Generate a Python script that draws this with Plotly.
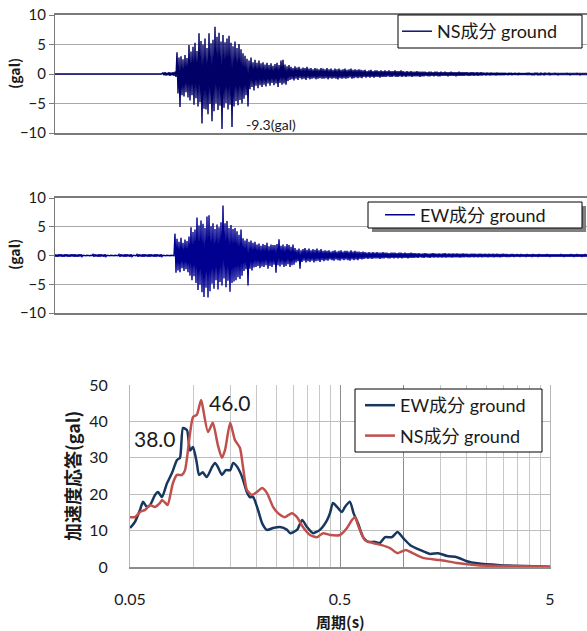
import plotly.graph_objects as go

# ---------------- time histories (envelope peaks read per 1 s column) ----------------
T_MAX = 266
NS_PRE_T = [0, 53]
NS_PRE_V = [0.0, 0.0]
NS_T0 = 54
NS_POS = [
    0.2, 0.3, 0.2, 0.3, 0.25, 0.3, 0.4, 3.7, 2.8, 3.0,
    2.5, 3.2, 2.7, 4.9, 3.8, 4.6, 5.3, 3.9, 6.9, 5.6,
    5.0, 6.0, 4.4, 6.9, 5.2, 5.8, 8.0, 6.3, 7.0, 5.5,
    6.6, 5.4, 6.0, 6.5, 5.3, 4.7, 5.5, 4.4, 5.1, 4.2,
    3.5, 3.1, 2.6, 2.3, 2.8, 2.0, 2.4, 1.9, 2.3, 1.8,
    2.0, 1.6, 1.9, 1.5, 1.8, 1.4, 1.7, 1.9, 1.5, 2.3,
    2.4, 1.6, 1.3, 1.5, 1.2, 1.0, 1.3, 1.1, 1.2, 0.9,
    1.1, 1.0, 1.2, 0.9, 1.0, 0.8, 1.0, 0.9, 0.8, 1.0,
    0.9, 0.8, 1.0, 0.8, 0.9, 0.7, 0.9, 0.8, 0.9, 0.7,
    0.8, 0.9, 0.7, 0.8, 0.9, 0.7, 0.8, 0.7, 0.8, 0.7,
    0.6, 0.7, 0.5, 0.6, 0.7, 0.5, 0.6, 0.6, 0.5, 0.6,
    0.5, 0.6, 0.5, 0.6, 0.5, 0.5, 0.6, 0.5, 0.5, 0.6,
    0.5, 0.4, 0.5, 0.4, 0.5, 0.4, 0.4, 0.5, 0.4, 0.4,
    0.4, 0.4, 0.3, 0.4, 0.4, 0.3, 0.4, 0.4, 0.3, 0.4,
    0.3, 0.4, 0.3, 0.3, 0.4, 0.3, 0.3, 0.3, 0.4, 0.3,
    0.3, 0.3, 0.3, 0.25, 0.3, 0.3, 0.25, 0.3, 0.25, 0.3,
    0.25, 0.2, 0.25, 0.2, 0.25, 0.2, 0.2, 0.25, 0.2, 0.2,
    0.2, 0.2, 0.15, 0.2, 0.2, 0.15, 0.2, 0.15, 0.2, 0.15,
    0.15, 0.15, 0.2, 0.15, 0.15, 0.1, 0.15, 0.15, 0.1, 0.15,
    0.1, 0.15, 0.1, 0.15, 0.1, 0.1, 0.15, 0.1, 0.1, 0.1,
    0.1, 0.1, 0.15, 0.1, 0.1, 0.1, 0.1, 0.15, 0.1, 0.1, 0.1, 0.1, 0.1,
]
NS_NEG = [
    -0.2, -0.25, -0.2, -0.3, -0.2, -0.3, -0.5, -3.3, -5.6, -3.6,
    -3.8, -3.1, -4.0, -4.5, -3.6, -5.2, -4.1, -5.5, -4.8, -8.4,
    -5.9, -6.0, -6.8, -5.1, -8.0, -6.3, -5.0, -6.1, -5.4, -9.3,
    -5.7, -4.9, -6.0, -5.2, -9.0, -5.5, -4.6, -5.3, -4.4, -5.0,
    -4.2, -3.6, -5.5, -2.6, -2.2, -2.8, -2.0, -2.4, -1.9, -2.2,
    -1.8, -2.1, -1.6, -2.0, -1.5, -1.9, -1.6, -2.2, -1.5, -1.8,
    -1.6, -1.8, -1.2, -1.0, -0.9, -1.1, -0.8, -1.0, -0.7, -0.9,
    -0.8, -1.0, -0.7, -0.9, -0.8, -0.7, -0.9, -0.8, -0.7, -0.8,
    -0.8, -0.7, -0.9, -0.7, -0.8, -0.7, -0.8, -0.9, -0.7, -0.8,
    -0.7, -0.8, -0.7, -0.6, -0.8, -0.7, -0.6, -0.7, -0.6, -0.7,
    -0.5, -0.6, -0.5, -0.6, -0.5, -0.6, -0.5, -0.5, -0.6, -0.5,
    -0.5, -0.5, -0.4, -0.5, -0.5, -0.4, -0.5, -0.5, -0.4, -0.5,
    -0.4, -0.5, -0.4, -0.4, -0.5, -0.4, -0.4, -0.4, -0.5, -0.4,
    -0.4, -0.3, -0.4, -0.4, -0.3, -0.4, -0.3, -0.4, -0.4, -0.3,
    -0.3, -0.3, -0.4, -0.3, -0.3, -0.3, -0.4, -0.3, -0.3, -0.3,
    -0.3, -0.25, -0.3, -0.3, -0.25, -0.3, -0.25, -0.3, -0.25, -0.25,
    -0.2, -0.25, -0.2, -0.25, -0.2, -0.2, -0.25, -0.2, -0.2, -0.2,
    -0.2, -0.15, -0.2, -0.15, -0.2, -0.15, -0.15, -0.2, -0.15, -0.15,
    -0.15, -0.15, -0.1, -0.15, -0.15, -0.15, -0.1, -0.15, -0.15, -0.1,
    -0.15, -0.1, -0.1, -0.15, -0.1, -0.1, -0.1, -0.15, -0.1, -0.1,
    -0.1, -0.1, -0.1, -0.15, -0.1, -0.1, -0.1, -0.1, -0.15, -0.1, -0.1, -0.1, -0.1,
]

EW_T0 = 0
EW_POS = [
    0.2, 0.15, 0.2, 0.2, 0.15, 0.2, 0.2, 0.15, 0.2, 0.2,
    0.2, 0.15, 0.2, 0.2, 0.03, 0.03, 0.03, 0.03, 0.03, 0.2,
    0.2, 0.15, 0.2, 0.2, 0.15, 0.2, 0.03, 0.03, 0.03, 0.03,
    0.03, 0.03, 0.2, 0.2, 0.15, 0.2, 0.2, 0.15, 0.2, 0.03,
    0.03, 0.2, 0.2, 0.15, 0.2, 0.2, 0.15, 0.2, 0.2, 0.15,
    0.2, 0.2, 0.15, 0.2, 0.03, 0.03, 0.03, 0.03, 0.03, 0.03,
    3.8, 2.9, 2.4, 3.1, 2.2, 2.8, 2.5, 3.3, 4.9, 4.1,
    4.5, 6.6, 5.2, 6.1, 5.5, 4.8, 6.8, 7.0, 5.1, 5.6,
    4.6, 5.4, 4.9, 5.8, 8.7, 5.6, 6.0, 4.8, 5.3, 4.6,
    4.8, 4.2, 3.6, 4.5, 3.0, 2.6, 2.9, 2.4, 2.6, 2.2,
    2.4, 1.9, 2.1, 1.7, 2.0, 1.8, 2.2, 1.6, 1.9, 1.8,
    1.8, 2.0, 2.8, 1.7, 1.9, 1.6, 2.0, 1.8, 1.5, 1.9,
    1.3, 1.0, 1.2, 0.9, 1.1, 1.3, 1.0, 1.2, 0.9, 1.1,
    1.0, 1.2, 0.9, 1.1, 0.8, 0.9, 0.8, 0.9, 0.7, 0.8,
    0.9, 0.7, 0.8, 0.9, 0.7, 0.8, 0.8, 0.7, 0.9, 0.7,
    0.8, 0.7, 0.7, 0.6, 0.7, 0.6, 0.5, 0.6, 0.5, 0.6,
    0.5, 0.6, 0.5, 0.5, 0.6, 0.5, 0.5, 0.4, 0.5, 0.5,
    0.5, 0.4, 0.5, 0.5, 0.4, 0.5, 0.4, 0.4, 0.5, 0.4,
    0.4, 0.35, 0.4, 0.3, 0.35, 0.4, 0.35, 0.3, 0.35, 0.4,
    0.35, 0.3, 0.35, 0.3, 0.35, 0.4, 0.3, 0.35, 0.3, 0.35,
    0.3, 0.35, 0.3, 0.3, 0.35, 0.3, 0.3, 0.25, 0.3, 0.3,
    0.3, 0.25, 0.3, 0.3, 0.25, 0.3, 0.25, 0.3, 0.25, 0.3,
    0.25, 0.3, 0.25, 0.25, 0.3, 0.25, 0.25, 0.2, 0.25, 0.25,
    0.2, 0.25, 0.2, 0.25, 0.2, 0.2, 0.25, 0.2, 0.2, 0.25,
    0.2, 0.2, 0.25, 0.2, 0.2, 0.2, 0.25, 0.2, 0.2, 0.2,
    0.2, 0.2, 0.2, 0.25, 0.2, 0.2, 0.2, 0.2, 0.25, 0.2,
    0.2, 0.25, 0.2, 0.2, 0.2, 0.25, 0.2,
]
EW_NEG = [
    -0.2, -0.2, -0.15, -0.2, -0.2, -0.15, -0.2, -0.2, -0.15, -0.2,
    -0.2, -0.2, -0.15, -0.2, -0.03, -0.03, -0.03, -0.03, -0.03, -0.2,
    -0.15, -0.2, -0.2, -0.15, -0.2, -0.2, -0.03, -0.03, -0.03, -0.03,
    -0.03, -0.03, -0.2, -0.15, -0.2, -0.2, -0.15, -0.2, -0.2, -0.03,
    -0.03, -0.2, -0.15, -0.2, -0.2, -0.15, -0.2, -0.2, -0.15, -0.2,
    -0.2, -0.15, -0.2, -0.2, -0.03, -0.03, -0.03, -0.03, -0.03, -0.03,
    -3.0, -2.6, -2.9, -2.2, -2.7, -2.4, -2.9, -3.5, -4.3, -3.6,
    -4.8, -6.0, -5.1, -6.4, -7.2, -5.6, -7.3, -6.2, -4.9, -5.8,
    -4.3, -5.9, -4.6, -5.2, -4.0, -5.5, -4.4, -6.3, -4.8, -4.5,
    -4.3, -3.8, -4.1, -3.5, -2.7, -2.4, -5.2, -2.3, -2.6, -2.1,
    -2.0, -1.8, -2.2, -1.9, -2.0, -1.7, -2.3, -1.8, -2.0, -1.6,
    -3.0, -1.7, -1.9, -1.6, -2.0, -1.8, -1.5, -2.0, -1.7, -1.6,
    -1.2, -1.0, -2.3, -1.1, -0.9, -1.2, -1.0, -1.1, -0.9, -1.2,
    -1.0, -0.9, -1.1, -0.8, -1.0, -0.8, -0.9, -0.7, -0.8, -0.9,
    -0.7, -0.8, -0.9, -0.7, -0.8, -0.7, -0.8, -0.9, -0.7, -0.8,
    -0.7, -0.8, -0.6, -0.7, -0.6, -0.5, -0.6, -0.5, -0.6, -0.5,
    -0.5, -0.5, -0.6, -0.5, -0.5, -0.4, -0.5, -0.5, -0.4, -0.5,
    -0.4, -0.5, -0.4, -0.5, -0.4, -0.4, -0.5, -0.4, -0.4, -0.4,
    -0.35, -0.4, -0.3, -0.35, -0.4, -0.3, -0.35, -0.4, -0.3, -0.35,
    -0.3, -0.35, -0.3, -0.35, -0.3, -0.35, -0.3, -0.3, -0.35, -0.3,
    -0.3, -0.3, -0.35, -0.3, -0.3, -0.25, -0.3, -0.3, -0.25, -0.3,
    -0.25, -0.3, -0.25, -0.3, -0.25, -0.25, -0.3, -0.25, -0.25, -0.3,
    -0.25, -0.25, -0.3, -0.25, -0.2, -0.25, -0.25, -0.25, -0.2, -0.25,
    -0.2, -0.2, -0.25, -0.2, -0.2, -0.25, -0.2, -0.2, -0.25, -0.2,
    -0.2, -0.25, -0.2, -0.2, -0.2, -0.2, -0.2, -0.25, -0.2, -0.2,
    -0.2, -0.2, -0.2, -0.2, -0.25, -0.2, -0.2, -0.2, -0.2, -0.25,
    -0.2, -0.2, -0.2, -0.25, -0.2, -0.2, -0.2,
]

# ---------------- response spectra ----------------
EW_PERIOD = [0.05, 0.0528, 0.0558, 0.0577, 0.0602, 0.0623, 0.0658, 0.068, 0.071, 0.075,
             0.0792, 0.0837, 0.0865, 0.0894, 0.0934, 0.0966, 0.0998, 0.104, 0.1066, 0.111,
             0.116, 0.123, 0.127, 0.131, 0.137, 0.143, 0.150, 0.155, 0.162, 0.171,
             0.180, 0.186, 0.193, 0.2035, 0.213, 0.2246, 0.240, 0.259, 0.280, 0.289,
             0.312, 0.330, 0.348, 0.372, 0.401, 0.434, 0.448, 0.463, 0.484, 0.511,
             0.528, 0.558, 0.58, 0.609, 0.644, 0.68, 0.734, 0.775, 0.82, 0.884,
             0.94, 0.998, 1.08, 1.20, 1.34, 1.47, 1.62, 1.80, 2.01, 2.25,
             2.89, 4.15, 5.0]
EW_ACC = [10.7, 12.4, 15.7, 17.9, 16.5, 17.0, 19.8, 20.6, 19.2, 23.0,
          25.8, 29.4, 30.0, 38.2, 37.6, 32.0, 33.0, 28.6, 25.3, 26.0,
          24.7, 27.5, 28.6, 27.5, 25.3, 26.6, 26.6, 28.6, 27.5, 24.7,
          20.6, 19.2, 19.2, 15.7, 12.0, 10.2, 10.7, 11.0, 10.2, 9.3,
          10.2, 12.9, 11.0, 9.3, 10.2, 12.9, 14.8, 17.6, 16.5, 15.1,
          16.5, 17.9, 14.8, 12.0, 8.2, 6.9, 6.9, 6.6, 8.2, 8.2,
          9.6, 8.0, 6.0, 4.7, 3.6, 3.8, 3.0, 2.7, 1.6, 1.0,
          0.5, 0.2, 0.1]
NS_PERIOD = [0.05, 0.0528, 0.0558, 0.059, 0.0623, 0.0658, 0.0695, 0.071, 0.0737, 0.0756,
             0.080, 0.0837, 0.0885, 0.0914, 0.0966, 0.0998, 0.104, 0.109, 0.111, 0.1176,
             0.124, 0.131, 0.137, 0.1417, 0.150, 0.158, 0.167, 0.1726, 0.180, 0.190,
             0.201, 0.213, 0.2246, 0.240, 0.2534, 0.2735, 0.295, 0.312, 0.333, 0.360,
             0.389, 0.415, 0.448, 0.5, 0.54, 0.57, 0.59, 0.609, 0.657, 0.718,
             0.79, 0.865, 0.94, 1.03, 1.11, 1.24, 1.5, 1.80, 2.25, 2.89,
             5.0]
NS_ACC = [13.7, 13.7, 15.1, 15.7, 17.0, 16.5, 17.6, 18.4, 17.6, 17.0,
          23.0, 25.3, 25.3, 26.6, 36.8, 41.2, 41.8, 45.9, 44.0, 37.1,
          39.6, 33.5, 30.0, 32.1, 39.6, 34.9, 32.7, 27.5, 21.2, 19.8,
          20.6, 21.7, 20.3, 16.5, 14.8, 13.7, 14.8, 13.7, 11.0, 8.8,
          8.2, 9.3, 8.8, 8.8, 10.7, 12.9, 13.7, 11.5, 7.4, 6.6,
          6.0, 5.2, 3.8, 4.7, 3.8, 2.5, 1.9, 1.1, 0.5, 0.3,
          0.1]
PERIOD_TICKS = [0.05, 0.5, 1, 5]
PERIOD_TICKTEXT = ["0.05", "0.5", "", "5"]
PERIOD_MINOR = [0.1, 0.15, 0.2, 0.25, 0.3, 0.35, 0.4, 0.45,
                1.5, 2, 2.5, 3, 3.5, 4, 4.5]
ACC_TICKS = [0, 10, 20, 30, 40, 50]
GAL_TICKS = [-10, -5, 0, 5, 10]
PEAK_EW_LABEL = "38.0"
PEAK_NS_LABEL = "46.0"
MIN_NS_LABEL = "-9.3(gal)"

W, H = 587, 631
FONT = "Lato, 'Noto Sans CJK JP', 'Noto Sans', sans-serif"
BOLD = "'Noto Sans CJK JP', Lato, sans-serif"


def zigzag(t0, pos, neg, pre_t=(), pre_v=()):
    xs, ys = list(pre_t), list(pre_v)
    for i, (p, n) in enumerate(zip(pos, neg)):
        xs += [t0 + i, t0 + i + 0.5]
        ys += [p, n]
    return xs, ys


def px_x(p):
    return p / W


def px_y(p):
    return 1 - p / H


fig = go.Figure()

ns_x, ns_y = zigzag(NS_T0, NS_POS, NS_NEG, NS_PRE_T, NS_PRE_V)
ew_x, ew_y = zigzag(EW_T0, EW_POS, EW_NEG)

fig.add_trace(go.Scatter(x=ns_x, y=ns_y, mode="lines", name="NS成分 ground",
                         line=dict(color="#000066", width=1.4), xaxis="x", yaxis="y",
                         legend="legend"))
fig.add_trace(go.Scatter(x=ew_x, y=ew_y, mode="lines", name="EW成分 ground",
                         line=dict(color="#000090", width=1.4), xaxis="x2", yaxis="y2",
                         legend="legend2"))
fig.add_trace(go.Scatter(x=EW_PERIOD, y=EW_ACC, mode="lines", name="EW成分 ground",
                         line=dict(color="#17375E", width=2.5, shape="spline", smoothing=0.6),
                         xaxis="x3", yaxis="y3", legend="legend3", legendgroup="ew"))
fig.add_trace(go.Scatter(x=NS_PERIOD, y=NS_ACC, mode="lines", name="NS成分 ground",
                         line=dict(color="#C0504D", width=2.5, shape="spline", smoothing=0.6),
                         xaxis="x3", yaxis="y3", legend="legend3", legendgroup="ns"))

tick_font = dict(family=FONT, size=15, color="#1a1a1a")
ts_x = dict(range=[0, T_MAX], showgrid=False, showticklabels=False, zeroline=False,
            showline=True, linecolor="#7a7a7a", linewidth=2, mirror=True, ticks="",
            automargin=False, fixedrange=True)
ts_y = dict(range=[-10, 10], tickvals=GAL_TICKS, showgrid=True, gridcolor="#a8a8a8",
            gridwidth=1, zeroline=False, showline=True, linecolor="#7a7a7a", linewidth=1,
            ticks="outside", ticklen=5, tickcolor="#7a7a7a", tickfont=tick_font,
            automargin=False)

leg_common = dict(bgcolor="rgba(0,0,0,0)", borderwidth=0, xanchor="left", yanchor="middle",
                  font=dict(family=FONT, size=18, color="#1a1a1a"), itemwidth=30)

fig.update_layout(
    width=W, height=H,
    margin=dict(l=0, r=0, t=0, b=0),
    paper_bgcolor="white", plot_bgcolor="white",
    font=dict(family=FONT, color="#1a1a1a"),
    xaxis=dict(domain=[px_x(55), 1.0], anchor="y", **ts_x),
    yaxis=dict(domain=[px_y(133), px_y(15)], anchor="x", **ts_y),
    xaxis2=dict(domain=[px_x(55), 1.0], anchor="y2", **ts_x),
    yaxis2=dict(domain=[px_y(313), px_y(198)], anchor="x2", **ts_y),
    xaxis3=dict(domain=[px_x(130), px_x(550)], anchor="y3", type="log",
                range=[-1.30103, 0.69897], tickvals=PERIOD_TICKS, ticktext=PERIOD_TICKTEXT,
                showgrid=True, gridcolor="#8c8c8c", gridwidth=1,
                minor=dict(tickvals=PERIOD_MINOR, showgrid=True, gridcolor="#c8c8c8",
                           gridwidth=1, ticks=""),
                showline=True, linecolor="#8c8c8c", linewidth=2, zeroline=False,
                ticks="", ticklabelstandoff=17,
                tickfont=dict(family=FONT, size=16, color="#1a1a1a"), automargin=False),
    yaxis3=dict(domain=[px_y(567), px_y(385)], anchor="x3", range=[0, 50],
                tickvals=ACC_TICKS, showgrid=True, gridcolor="#bdbdbd", gridwidth=1,
                zeroline=False, showline=True, linecolor="#b5b5b5", linewidth=1, mirror=True,
                ticks="", ticklabelstandoff=18,
                tickfont=dict(family=FONT, size=16, color="#1a1a1a"), automargin=False),
    legend=dict(x=px_x(397), y=px_y(31.5), **leg_common),
    legend2=dict(x=px_x(380), y=px_y(215), **leg_common),
    legend3=dict(x=px_x(360), y=px_y(420.5), tracegroupgap=4, **leg_common),
    showlegend=True,
)

# legend frames (white boxes with black border); middle one has a drop shadow
fig.add_shape(type="rect", xref="paper", yref="paper",
              x0=px_x(372), x1=px_x(586), y0=px_y(232), y1=px_y(206),
              fillcolor="#7f7f7f", line=dict(width=0), layer="above")
for (x0, y0, x1, y1) in [(398, 15, 582, 48), (368, 202, 582, 228), (355, 389, 542, 452)]:
    fig.add_shape(type="rect", xref="paper", yref="paper",
                  x0=px_x(x0), x1=px_x(x1), y0=px_y(y1), y1=px_y(y0),
                  fillcolor="white", line=dict(color="#000000", width=1), layer="above")

ann = [
    dict(text="<b>(gal)</b>", x=px_x(14), y=px_y(74), textangle=-90, size=14),
    dict(text="<b>(gal)</b>", x=px_x(14), y=px_y(255), textangle=-90, size=14),
    dict(text="<b>加速度応答(gal)</b>", x=px_x(72), y=px_y(476), textangle=-90, size=18),
    dict(text="<b>周期(s)</b>", x=px_x(340), y=px_y(621), textangle=0, size=15),
]
for a in ann:
    fig.add_annotation(text=a["text"], x=a["x"], y=a["y"], xref="paper", yref="paper",
                       textangle=a["textangle"], showarrow=False,
                       font=dict(family=BOLD, size=a["size"], color="#1a1a1a"),
                       xanchor="center", yanchor="middle")

fig.add_annotation(text=PEAK_NS_LABEL, x=-0.9626, y=46, xref="x3", yref="y3",
                   showarrow=False, xanchor="left", yanchor="middle", xshift=6, yshift=-3,
                   font=dict(family=FONT, size=21, color="#1a1a1a"))
fig.add_annotation(text=PEAK_EW_LABEL, x=-1.0487, y=38, xref="x3", yref="y3",
                   showarrow=False, xanchor="right", yanchor="middle", xshift=-5, yshift=-10,
                   font=dict(family=FONT, size=21, color="#1a1a1a"))
fig.add_annotation(text=MIN_NS_LABEL, x=83.5, y=-9.3, xref="x", yref="y",
                   showarrow=False, xanchor="left", yanchor="middle", xshift=22, yshift=4,
                   font=dict(family=FONT, size=14, color="#1a1a1a"))

fig.write_html("out.html",
               config={"displayModeBar": False},
               post_script="document.body.style.margin='0';"
                           "document.body.style.overflow='hidden';")
